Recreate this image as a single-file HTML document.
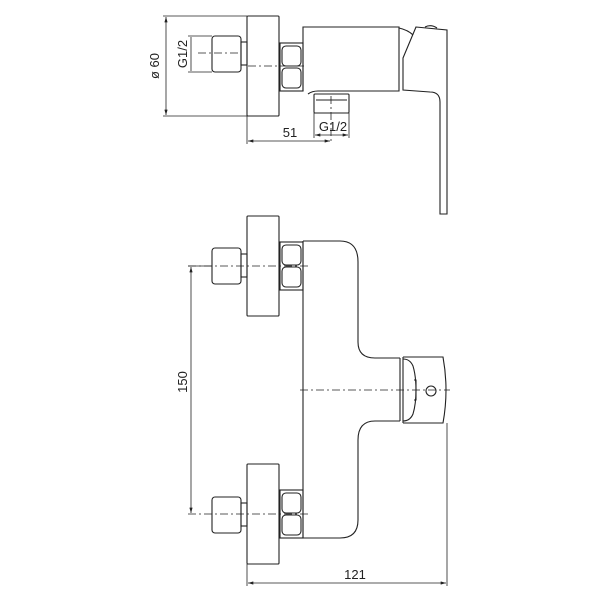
<!DOCTYPE html>
<html><head><meta charset="utf-8"><style>html,body{margin:0;padding:0;background:#fff}svg{display:block}</style></head>
<body>
<svg width="600" height="600" viewBox="0 0 600 600" xmlns="http://www.w3.org/2000/svg">
<defs>
<marker id="a" viewBox="0 0 10 6" refX="10" refY="3" markerWidth="8" markerHeight="4" orient="auto-start-reverse"><path d="M0,0 L10,3 L0,6 z" fill="#222"/></marker>
<g id="hex">
<rect x="280" y="0" width="23" height="48"/>
<rect x="282" y="3" width="19" height="20" rx="4"/>
<rect x="282" y="25" width="19" height="20" rx="4"/>
</g>
<g id="nut">
<rect x="212" y="0" width="29" height="36" rx="3"/>
<rect x="241" y="6" width="6" height="23"/>
</g>
</defs>
<g fill="none" stroke="#222" stroke-width="1.1" font-family="Liberation Sans, sans-serif">
<!-- TOP VIEW -->
<rect x="247" y="16" width="32" height="100" rx="1"/>
<use href="#nut" y="36"/>
<use href="#hex" y="43"/>
<path d="M303,91 L303,27 L399,27 L399,91 L318,91 Q312,91 308,94"/>
<path d="M399,28 Q408,30 413,35"/>
<rect x="314" y="94" width="35" height="19" rx="1"/>
<line x1="316" y1="100" x2="347" y2="100"/>
<path d="M416,27 L447,30 L447,214 L440,214 L440,102 Q440,92 430,92 L403,90 L403,58 Z"/>
<path d="M425,27 Q431,24 437,28" />
<!-- dims top -->
<g stroke-width="0.8">
<line x1="163" y1="16" x2="247" y2="16"/><line x1="163" y1="116" x2="247" y2="116"/>
<line x1="166" y1="17" x2="166" y2="115" marker-start="url(#a)" marker-end="url(#a)"/>
<line x1="188" y1="36" x2="212" y2="36"/><line x1="188" y1="72" x2="212" y2="72"/>
<line x1="191" y1="37" x2="191" y2="71"/>
<line x1="247" y1="116" x2="247" y2="144"/>
<line x1="248" y1="141" x2="330" y2="141" marker-start="url(#a)" marker-end="url(#a)"/>
<line x1="314" y1="113" x2="314" y2="138"/><line x1="349" y1="113" x2="349" y2="138"/>
<line x1="315" y1="135" x2="348" y2="135" marker-start="url(#a)" marker-end="url(#a)"/>
<path stroke-dasharray="8,3,2,3" d="M198,53 L240,53 M248,66 L305,66 M331,96 L331,142"/>
</g>
<!-- FRONT VIEW -->
<rect x="247" y="216" width="32" height="100" rx="1"/>
<rect x="247" y="464" width="32" height="100" rx="1"/>
<use href="#nut" y="248"/>
<use href="#nut" y="497"/>
<use href="#hex" y="242"/>
<use href="#hex" y="490"/>
<path d="M303,241 L340,241 Q358,241 358,262 L358,342 Q358,358 375,358 L400,358"/>
<path d="M400,421 L375,421 Q358,421 358,440 L358,520 Q358,538 340,538 L303,538 L303,241"/>
<path d="M403,357 L443,357 Q449,390 443,423 L403,423"/>
<line x1="403" y1="357" x2="403" y2="423"/>
<path d="M400,358 L400,421"/>
<path d="M403,359 Q410,359 413,366 Q416,376 416,390 Q416,404 413,414 Q410,421 403,421"/>
<path d="M414,380 L416,380 L416,400 L414,400"/>
<circle cx="431" cy="391" r="5"/>
<!-- dims front -->
<g stroke-width="0.8">
<line x1="188" y1="266" x2="212" y2="266"/>
<line x1="191" y1="267" x2="191" y2="513" marker-start="url(#a)" marker-end="url(#a)"/>
<line x1="447" y1="423" x2="447" y2="586"/>
<line x1="247" y1="564" x2="247" y2="586"/>
<line x1="248" y1="583" x2="446" y2="583" marker-start="url(#a)" marker-end="url(#a)"/>
<path stroke-dasharray="8,3,2,3" d="M188,266 L310,266 M188,514 L310,514 M300,390 L450,390"/>
</g>
</g>
<g font-family="Liberation Sans, sans-serif" font-size="13" fill="#222" text-anchor="middle">
<text transform="translate(159,66) rotate(-90)">ø 60</text>
<text transform="translate(187,54) rotate(-90)">G1/2</text>
<text x="290" y="137">51</text>
<text x="333" y="131">G1/2</text>
<text transform="translate(187,382) rotate(-90)">150</text>
<text x="355" y="579">121</text>
</g>
</svg>
</body></html>
